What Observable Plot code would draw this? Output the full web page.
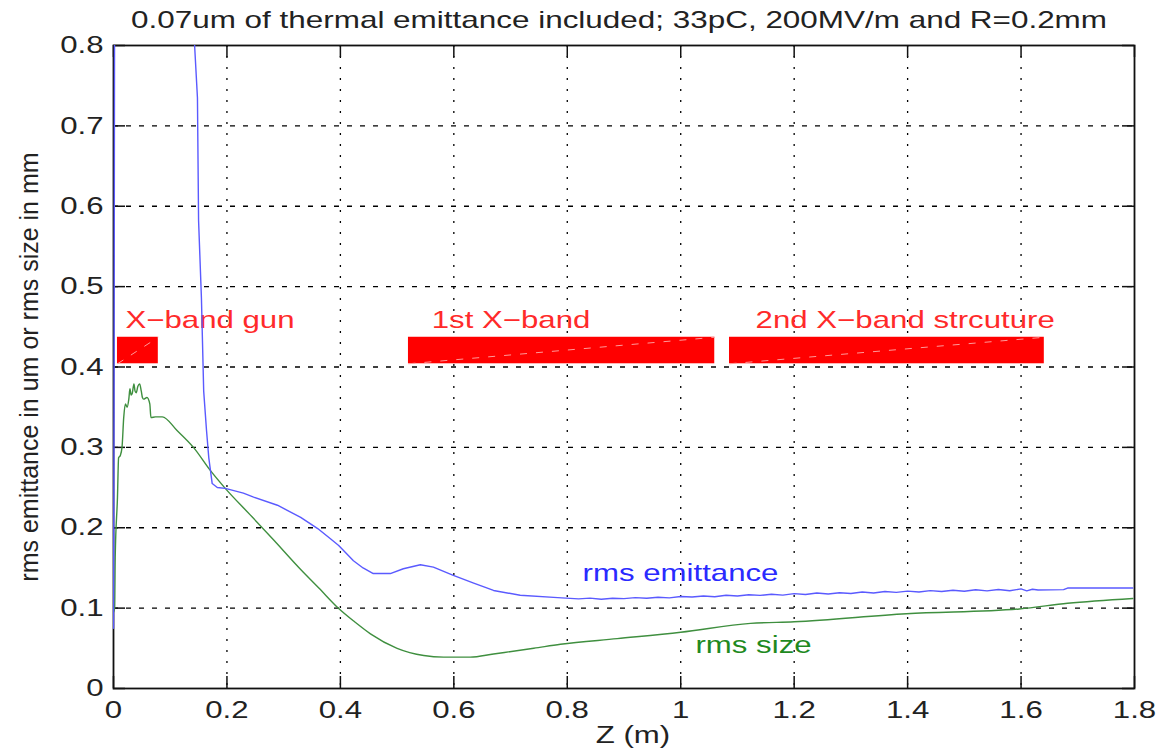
<!DOCTYPE html>
<html>
<head>
<meta charset="utf-8">
<script src="https://cdn.jsdelivr.net/npm/d3@7"></script>
<script src="https://cdn.jsdelivr.net/npm/@observablehq/plot@0.6"></script>
<style>
  html, body { margin: 0; padding: 0; background: white; }
  #wrap { position: relative; width: 1157px; height: 752px; overflow: hidden; font-family: "Liberation Sans", Arial, sans-serif; }
  #title { position: relative; height: 36px; }
  #title span { position: absolute; left: 619px; top: 8px; white-space: nowrap; font-size: 24px; line-height: 24px; color: #222;
    transform: translateX(-50%) scaleX(1.31); transform-origin: center; }
</style>
</head>
<body>
<div id="wrap">
  <div id="title"><span>0.07um of thermal emittance included; 33pC, 200MV/m and R=0.2mm</span></div>
  <div id="chart"></div>
</div>
<script>
// ---- data ----
const xTicks = [0, 0.2, 0.4, 0.6, 0.8, 1, 1.2, 1.4, 1.6, 1.8];
const yTicks = [0, 0.1, 0.2, 0.3, 0.4, 0.5, 0.6, 0.7, 0.8];
const xTickLabels = ["0", "0.2", "0.4", "0.6", "0.8", "1", "1.2", "1.4", "1.6", "1.8"];
const yTickLabels = ["0", "0.1", "0.2", "0.3", "0.4", "0.5", "0.6", "0.7", "0.8"];

// rms emittance (um) vs Z (m)
const emitZ = [0, 0.001, 0.002, 0.141, 0.143, 0.148, 0.150, 0.155, 0.159, 0.164, 0.168, 0.174, 0.183, 0.197,
  0.229, 0.247, 0.289, 0.330, 0.360, 0.383, 0.397, 0.423, 0.440, 0.458, 0.488, 0.511, 0.541, 0.564, 0.598, 0.635,
  0.670, 0.717, 0.783, 0.82, 0.84, 0.86, 0.88, 0.90, 0.92, 0.94, 0.96, 0.98, 1.00, 1.02, 1.04, 1.06, 1.08, 1.10,
  1.12, 1.14, 1.16, 1.18, 1.20, 1.22, 1.24, 1.26, 1.28, 1.30, 1.32, 1.34, 1.36, 1.38, 1.40, 1.42, 1.44, 1.46,
  1.48, 1.50, 1.52, 1.54, 1.56, 1.58, 1.60, 1.61, 1.62, 1.63, 1.675, 1.682, 1.797];
const emitV = [0.075, 0.35, 0.9, 0.9, 0.8, 0.735, 0.582, 0.486, 0.37, 0.321, 0.287, 0.255, 0.250, 0.249,
  0.243, 0.238, 0.228, 0.213, 0.199, 0.186, 0.178, 0.159, 0.150, 0.143, 0.143, 0.149, 0.154, 0.151, 0.141, 0.131,
  0.122, 0.116, 0.113, 0.1115, 0.1125, 0.1110, 0.1122, 0.1118, 0.1130, 0.1122, 0.1136, 0.1128, 0.1145, 0.1138,
  0.1150, 0.1142, 0.1160, 0.1150, 0.1166, 0.1158, 0.1172, 0.1162, 0.1180, 0.1170, 0.1188, 0.1176, 0.1192, 0.1182,
  0.1200, 0.1188, 0.1206, 0.1196, 0.1212, 0.1200, 0.1218, 0.1206, 0.1222, 0.1210, 0.1228, 0.1214, 0.1232, 0.1216,
  0.1240, 0.1215, 0.1235, 0.1225, 0.123, 0.125, 0.125];

// rms size (mm) vs Z (m)
const sizeZ = [0, 0.002, 0.003, 0.007, 0.009, 0.012, 0.015, 0.018, 0.021, 0.024, 0.027, 0.029, 0.031, 0.033, 0.036,
  0.038, 0.040, 0.043, 0.046, 0.049, 0.051, 0.053, 0.059, 0.064, 0.066, 0.074, 0.086, 0.112, 0.141, 0.171, 0.197,
  0.241, 0.282, 0.330, 0.362, 0.397, 0.425, 0.453, 0.500, 0.547, 0.582, 0.629, 0.670, 0.741, 0.788, 0.888, 1.0,
  1.123, 1.2, 1.398, 1.597, 1.682, 1.797];
const sizeV = [0.095, 0.1, 0.163, 0.238, 0.287, 0.29, 0.30, 0.337, 0.354, 0.35, 0.36, 0.373, 0.365, 0.367, 0.379,
  0.37, 0.368, 0.376, 0.379, 0.37, 0.362, 0.360, 0.362, 0.354, 0.337, 0.338, 0.338, 0.321, 0.30, 0.271, 0.249,
  0.216, 0.185, 0.148, 0.125, 0.0995, 0.083, 0.068, 0.050, 0.041, 0.039, 0.039, 0.043, 0.050, 0.055, 0.062, 0.070,
  0.081, 0.083, 0.093, 0.099, 0.106, 0.112];

// accelerator sections (red bars)
const sectionNames = ["X−band gun", "1st X−band", "2nd X−band strcuture"];
const sectionStart = [0.007, 0.52, 1.086];
const sectionEnd = [0.079, 1.06, 1.641];
const sectionLow = [0.404, 0.404, 0.404];
const sectionHigh = [0.437, 0.437, 0.437];
const sectionLabelZ = [0.021, 0.561, 1.132];
const sectionLabelV = [0.458, 0.458, 0.458];

// curve labels
const curveNames = ["rms emittance", "rms size"];
const curveLabelZ = [0.827, 1.026];
const curveLabelV = [0.143, 0.0535];

// ---- build tables ----
const emit = emitZ.map((z, i) => ({z, v: emitV[i]}));
const size = sizeZ.map((z, i) => ({z, v: sizeV[i]}));
const sections = sectionNames.map((n, i) => ({name: n, x1: sectionStart[i], x2: sectionEnd[i], y1: sectionLow[i], y2: sectionHigh[i],
  lx: sectionLabelZ[i], ly: sectionLabelV[i]}));
const curveLabels = curveNames.map((n, i) => ({name: n, x: curveLabelZ[i], y: curveLabelV[i]}));
const innerX = xTicks.slice(1, -1);
const innerY = yTicks.slice(1, -1);

const W = 1157, H = 716, mL = 113, mR = 23, mT = 9, mB = 64;
const fw = W - mL - mR, fh = H - mT - mB, tl = 12;

const chart = Plot.plot({
  width: W, height: H,
  marginLeft: mL, marginRight: mR, marginTop: mT, marginBottom: mB,
  style: {fontFamily: '"Liberation Sans", Arial, sans-serif', fontSize: "24px", color: "#222", background: "white", overflow: "visible"},
  x: {domain: [0, 1.8], ticks: xTicks, tickFormat: (d) => xTickLabels[xTicks.indexOf(d)], tickSize: 0, tickPadding: 12, label: null},
  y: {domain: [0, 0.8], ticks: yTicks, tickFormat: (d) => yTickLabels[yTicks.indexOf(d)], tickSize: 0, tickPadding: 10, label: null},
  marks: [
    Plot.ruleX(innerX, {stroke: "#000", strokeWidth: 1.3, strokeDasharray: "2,9"}),
    Plot.ruleY(innerY, {stroke: "#000", strokeWidth: 1.3, strokeDasharray: "5,8"}),
    // inward ticks on all four sides
    Plot.ruleX(xTicks, {stroke: "#111", strokeWidth: 1.5, insetTop: fh - tl}),
    Plot.ruleX(xTicks, {stroke: "#111", strokeWidth: 1.5, insetBottom: fh - tl}),
    Plot.ruleY(yTicks, {stroke: "#111", strokeWidth: 1.5, insetRight: fw - tl}),
    Plot.ruleY(yTicks, {stroke: "#111", strokeWidth: 1.5, insetLeft: fw - tl}),
    Plot.frame({stroke: "#111", strokeWidth: 1.8}),
    // red sections
    Plot.rect(sections, {x1: "x1", x2: "x2", y1: "y1", y2: "y2", fill: "#ff0000"}),
    Plot.link(sections, {x1: "x1", y1: "y1", x2: "x2", y2: "y2", stroke: "#ff9a9a", strokeWidth: 1, strokeDasharray: "7,9"}),
    Plot.text(sections, {x: "lx", y: "ly", text: "name", fill: "#ff2a2a", textAnchor: "start", fontSize: 24}),
    // curves
    Plot.line(size, {x: "z", y: "v", stroke: "#3f8f3f", strokeWidth: 1.4, clip: true, curve: "monotone-x"}),
    Plot.line(emit, {x: "z", y: "v", stroke: "#5a5aff", strokeWidth: 1.4, clip: true}),
    Plot.text(curveLabels, {x: "x", y: "y", text: "name", fill: (d) => d.name === "rms size" ? "#1f8a1f" : "#2a2aff", textAnchor: "start", fontSize: 24}),
    // axis titles
    Plot.text(["rms emittance in um or rms size in mm"], {frameAnchor: "left", textAnchor: "middle", dx: -84, rotate: -90, fill: "#222", fontSize: 25}),
    Plot.text(["Z (m)"], {frameAnchor: "bottom", textAnchor: "middle", dx: 9, dy: 54, fill: "#222", fontSize: 24})
  ]
});
document.getElementById("chart").appendChild(chart);

// emulate the horizontally stretched lettering of the original
chart.querySelectorAll("text").forEach((t) => {
  const tr = t.getAttribute("transform") || "";
  if (tr.includes("rotate")) return;
  const bb = t.getBBox();
  const anchor = getComputedStyle(t).textAnchor;
  const px = anchor === "end" ? bb.x + bb.width : anchor === "middle" ? bb.x + bb.width / 2 : bb.x;
  t.setAttribute("transform", `${tr} translate(${px},0) scale(1.3,1) translate(${-px},0)`);
});
</script>
</body>
</html>
